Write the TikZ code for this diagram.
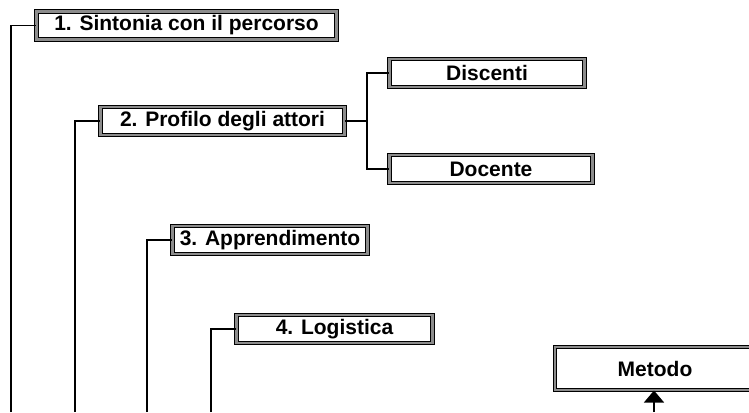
\documentclass[tikz,border=0pt]{standalone}
\usepackage{fontspec}
\setmainfont{Liberation Sans}
\usetikzlibrary{arrows.meta, positioning}
\definecolor{FrameGray}{RGB}{140, 140, 140}

\tikzset{
  framebox/.style={draw, double=FrameGray, double distance=2.4pt, line width=1pt,
    inner sep=0pt, minimum height=28pt, font=\fontsize{21}{24}\selectfont\bfseries},
  link/.style={line width=1.3pt}
}

\begin{document}
\begin{tikzpicture}[x=1pt, y=-1pt]
            \useasboundingbox (0,0) rectangle (749,412);
            \node[framebox, minimum width=300pt] (sintonia) at (186.5,25.5) {1. Sintonia con il percorso};
            \node[framebox, minimum width=244pt] (profilo) at (222.5,121) {2. Profilo degli attori};
            \node[framebox, minimum width=195pt] (discenti) at (487,73) {Discenti};
            \node[framebox, minimum width=203pt] (docente) at (491,169) {Docente};
            \node[framebox, minimum width=195pt] (apprend) at (270,240) {3. Apprendimento};
            \node[framebox, minimum width=196pt] (logistica) at (334.5,329) {4. Logistica};
            \node[framebox, minimum width=200pt, minimum height=43pt] (metodo) at (655,368.5) {Metodo};
            % free ends at the bottom edge
            \coordinate (endA) at (11,412);
            \coordinate (endB) at (75,412);
            \coordinate (endC) at (147,412);
            \coordinate (endD) at (211,412);
            \coordinate (endM) at (654,412);
            \coordinate (fork) at (367,121);
            \draw[link] (endA) |- (sintonia.west);
            \draw[link] (endB) |- (profilo.west);
            \draw[link] (endC) |- (apprend.west);
            \draw[link] (endD) |- (logistica.west);
            \draw[link] (profilo.east) -- (fork);
            \draw[link] (fork) |- (discenti.west);
            \draw[link] (fork) |- (docente.west);
            \draw[link, -{Triangle[width=20pt, length=12pt]}] (endM) -- (endM |- metodo.south);
        \end{tikzpicture}
\end{document}
